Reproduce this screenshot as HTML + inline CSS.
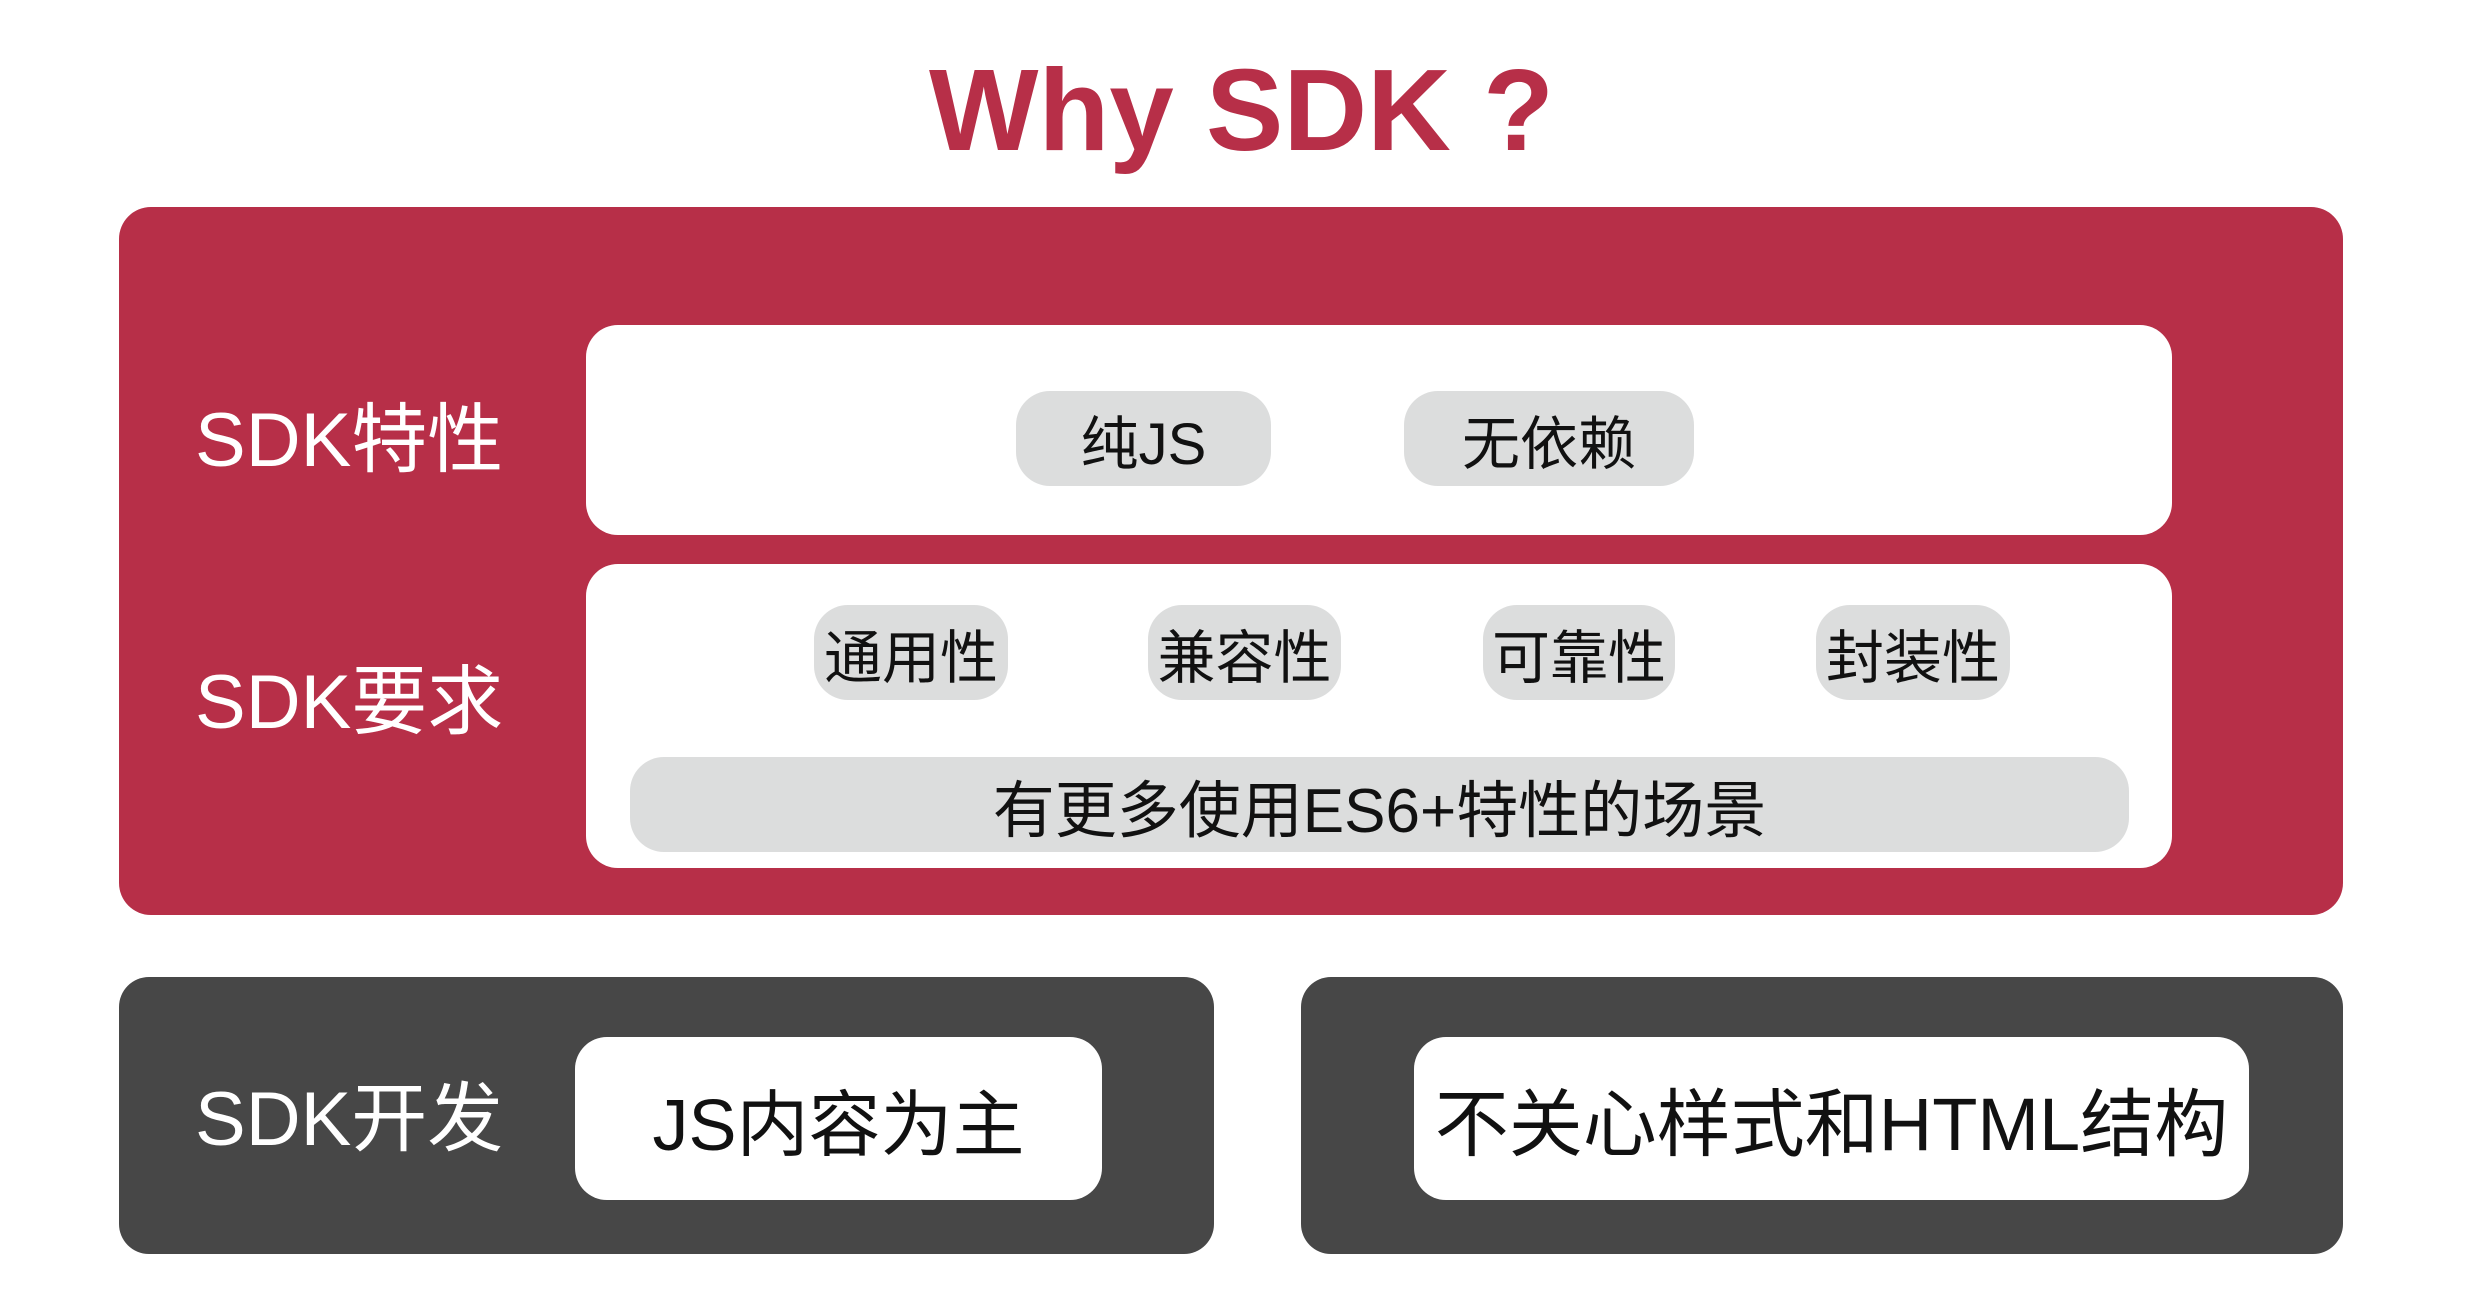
<!DOCTYPE html>
<html><head><meta charset="utf-8"><style>
body{margin:0;width:2483px;height:1290px;background:#fff;position:relative;overflow:hidden;font-family:"Liberation Sans","Noto Sans CJK SC",sans-serif;}
div{position:absolute;box-sizing:border-box;}
.c{display:flex;align-items:center;justify-content:center;white-space:nowrap;}
.pill{background:#dcdddd;border-radius:34px;font-size:58px;color:#111;}
.lab{color:#fff;font-size:76px;left:195px;white-space:nowrap;line-height:1;}
</style></head><body>
<div class="c" style="left:0;width:2483px;top:40px;height:140px;font-size:116px;font-weight:bold;color:#b72f48;">Why SDK ?</div>
<div style="left:119px;top:207px;width:2224px;height:708px;background:#b72f48;border-radius:32px;"></div>
<div style="left:586px;top:325px;width:1586px;height:210px;background:#fff;border-radius:32px;"></div>
<div style="left:586px;top:564px;width:1586px;height:304px;background:#fff;border-radius:32px;"></div>
<div class="lab" style="top:403px;">SDK特性</div>
<div class="lab" style="top:665px;">SDK要求</div>
<div class="c pill" style="left:1016px;top:391px;width:255px;height:95px;">纯JS</div>
<div class="c pill" style="left:1404px;top:391px;width:290px;height:95px;">无依赖</div>
<div class="c pill" style="left:814px;top:605px;width:194px;height:95px;">通用性</div>
<div class="c pill" style="left:1148px;top:605px;width:193px;height:95px;">兼容性</div>
<div class="c pill" style="left:1483px;top:605px;width:192px;height:95px;">可靠性</div>
<div class="c pill" style="left:1816px;top:605px;width:194px;height:95px;">封装性</div>
<div class="c pill" style="left:630px;top:757px;width:1499px;height:95px;font-size:62px;">有更多使用ES6+特性的场景</div>
<div style="left:119px;top:977px;width:1095px;height:277px;background:#474747;border-radius:30px;"></div>
<div style="left:1301px;top:977px;width:1042px;height:277px;background:#474747;border-radius:30px;"></div>
<div class="lab" style="top:1082px;">SDK开发</div>
<div class="c" style="left:575px;top:1037px;width:527px;height:163px;background:#fff;border-radius:32px;font-size:72px;color:#111;">JS内容为主</div>
<div class="c" style="left:1414px;top:1037px;width:835px;height:163px;background:#fff;border-radius:32px;font-size:74px;color:#111;">不关心样式和HTML结构</div>
</body></html>
